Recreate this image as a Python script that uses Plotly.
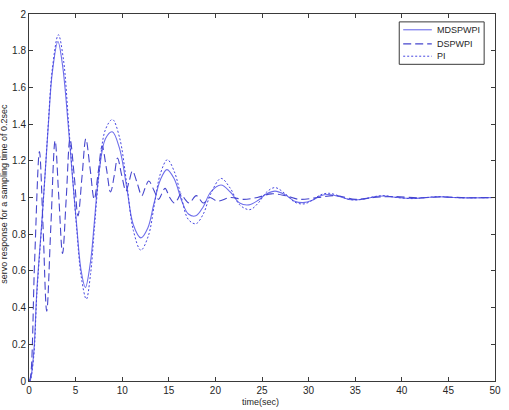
import plotly.graph_objects as go

# MDSPWPI (solid)
t_md = [0, 0.1, 0.5, 0.85, 1.38, 1.73, 2.08, 2.5, 3.1, 3.6, 4.2, 4.6, 5.08, 5.6, 6.05, 6.6, 7.0, 7.5, 8.2, 8.93,
        9.7, 10.5, 11.2, 12.0, 12.75, 13.4, 14.1, 14.8, 15.6, 16.4, 17.1, 17.9, 18.7, 19.5, 20.6, 21.6, 22.6, 23.6,
        24.6, 25.5, 26.4, 27.5, 28.5, 29.4, 30.4, 31.3, 32.2, 33.3, 34.3, 35.3, 36.3, 37.2, 38.1, 39.5, 41.2, 42.6,
        44.0, 45.5, 47.1, 50]
y_md = [0, 0, 0.15, 0.5, 0.87, 1.13, 1.40, 1.68, 1.85, 1.72, 1.40, 1.15, 0.87, 0.6, 0.51, 0.65, 0.86, 1.13, 1.32, 1.358,
        1.27, 1.05, 0.85, 0.78, 0.834, 0.966, 1.097, 1.152, 1.1, 0.98, 0.91, 0.90, 0.95, 1.03, 1.068, 1.03, 0.97, 0.96,
        0.985, 1.02, 1.035, 1.015, 0.98, 0.972, 0.985, 1.01, 1.016, 1.005, 0.99, 0.988, 0.995, 1.005, 1.008, 1.0, 0.995, 1.0,
        1.004, 1.0, 0.998, 1.0]

# DSPWPI (dashed)
t_ds = [0, 0.15, 0.6, 1.12, 1.5, 1.9, 2.35, 2.8, 3.2, 3.6, 4.0, 4.4, 4.85, 5.26, 5.7, 6.1, 6.55, 7.0, 7.43, 7.85,
        8.3, 8.75, 9.15, 9.5, 9.95, 10.4, 10.75, 11.1, 11.6, 12.1, 12.45, 12.85, 13.4, 13.9, 14.25, 14.6, 15.1, 15.6,
        15.95, 16.3, 16.75, 17.2, 17.95, 18.7, 19.4, 20.2, 21.6, 23.0, 24.5, 26.0, 27.5, 29.0, 31.0, 33.0, 35.0, 37.0,
        39.0, 42.0, 44.0, 47.0, 50]
y_ds = [0, 0.02, 0.65, 1.25, 0.85, 0.38, 0.85, 1.31, 1.0, 0.695, 1.0, 1.32, 1.12, 0.90, 1.12, 1.32, 1.16, 0.99, 1.14, 1.28,
        1.16, 1.03, 1.12, 1.215, 1.12, 1.035, 1.09, 1.145, 1.08, 1.01, 1.05, 1.09, 1.04, 0.99, 1.02, 1.05, 1.0, 0.97,
        0.99, 1.02, 0.99, 0.97, 1.01, 0.97, 1.0, 0.98, 1.0, 0.99, 1.0, 1.02, 1.01, 0.99, 1.0, 1.01, 0.99, 1.0,
        1.005, 0.998, 1.003, 0.999, 1.0]

# PI (dotted)
t_pi = [0, 0.1, 0.5, 0.85, 1.38, 1.73, 2.08, 2.5, 3.15, 3.7, 4.25, 4.65, 5.1, 5.6, 6.15, 6.6, 7.0, 7.5, 8.2, 8.95,
        9.7, 10.5, 11.2, 12.0, 12.8, 13.45, 14.1, 14.85, 15.6, 16.35, 17.1, 17.9, 18.7, 19.5, 20.6, 21.6, 22.6, 23.7,
        24.6, 25.5, 26.4, 27.5, 28.5, 29.5, 30.4, 31.3, 32.2, 33.3, 34.3, 35.3, 36.3, 37.2, 38.1, 39.5, 41.2, 42.6,
        44.0, 45.5, 47.1, 50]
y_pi = [0, 0, 0.13, 0.48, 0.86, 1.13, 1.41, 1.7, 1.887, 1.75, 1.40, 1.13, 0.84, 0.57, 0.446, 0.58, 0.82, 1.12, 1.37, 1.425,
        1.33, 1.07, 0.82, 0.713, 0.79, 0.96, 1.13, 1.206, 1.14, 1.0, 0.88, 0.857, 0.91, 1.02, 1.104, 1.05, 0.96, 0.934,
        0.97, 1.03, 1.054, 1.02, 0.975, 0.965, 0.985, 1.015, 1.023, 1.008, 0.99, 0.987, 0.996, 1.006, 1.01, 1.0, 0.994, 1.0,
        1.005, 1.0, 0.998, 1.0]

series_names = ["MDSPWPI", "DSPWPI", "PI"]
x_ticks = [0, 5, 10, 15, 20, 25, 30, 35, 40, 45, 50]
y_ticks = [0, 0.2, 0.4, 0.6, 0.8, 1, 1.2, 1.4, 1.6, 1.8, 2]
y_tick_labels = ["0", "0.2", "0.4", "0.6", "0.8", "1", "1.2", "1.4", "1.6", "1.8", "2"]

styles = [
    dict(color="rgb(110,110,235)", width=1.1, dash="solid"),
    dict(color="rgb(70,70,205)", width=1.1, dash="8px,4px"),
    dict(color="rgb(70,70,225)", width=1.0, dash="2px,2px"),
]
FONT = "Liberation Sans, Arial"

fig = go.Figure()
for name, tx, ty, st in zip(series_names, [t_md, t_ds, t_pi], [y_md, y_ds, y_pi], styles):
    fig.add_trace(go.Scatter(x=tx, y=ty, mode="lines", name=name, showlegend=False,
                             line=dict(shape="spline", **st)))

axis_common = dict(showline=True, linecolor="#3a3a3a", linewidth=1, mirror="ticks", ticks="inside",
                   ticklen=4, tickcolor="#3a3a3a", showgrid=False, zeroline=False,
                   tickfont=dict(family=FONT, size=10, color="#262626"))

# compact MATLAB-style legend box
shapes = [dict(type="rect", xref="paper", yref="paper", x0=0.7945, x1=0.9767, y0=0.8629, y1=0.9785,
               line=dict(color="#3a3a3a", width=1), fillcolor="white", layer="above")]
annotations = []
legend_y = [0.957, 0.9185, 0.885]
for name, st, ly in zip(series_names, styles, legend_y):
    shapes.append(dict(type="line", xref="paper", yref="paper", x0=0.803, x1=0.8644, y0=ly, y1=ly,
                       line=dict(color=st["color"], width=st["width"], dash=st["dash"]), layer="above"))
    annotations.append(dict(text=name, x=0.8718, y=ly, xref="paper", yref="paper", showarrow=False,
                            xanchor="left", yanchor="middle",
                            font=dict(family=FONT, size=9, color="#262626")))

annotations += [
    dict(text="time(sec)", x=0.497, y=-0.058, xref="paper", yref="paper", showarrow=False,
         xanchor="center", yanchor="middle", font=dict(family=FONT, size=9, color="#262626")),
    dict(text="servo response for a sampling time of 0.2sec", x=-0.054, y=0.51, xref="paper", yref="paper",
         showarrow=False, textangle=-90, xanchor="center", yanchor="middle",
         font=dict(family=FONT, size=9, color="#262626")),
]

fig.update_layout(
    width=509, height=410,
    margin=dict(l=29, r=8, t=9, b=29),
    paper_bgcolor="white", plot_bgcolor="white",
    xaxis=dict(range=[0, 50], tickvals=x_ticks, **axis_common),
    yaxis=dict(range=[0, 2], tickvals=y_ticks, ticktext=y_tick_labels, **axis_common),
    showlegend=False,
    shapes=shapes,
    annotations=annotations,
)

fig.write_html("out.html")
